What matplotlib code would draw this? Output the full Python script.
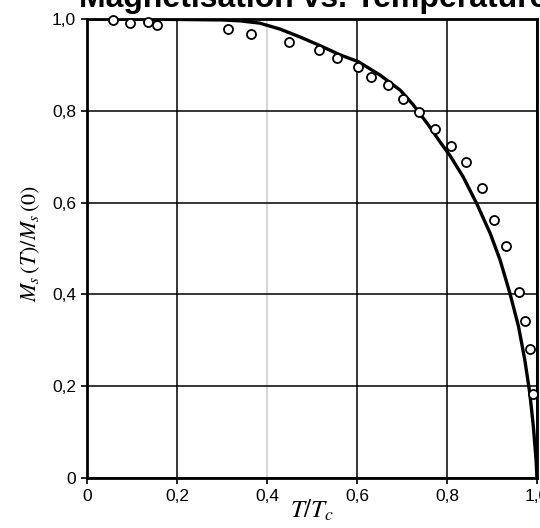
import numpy as np
import matplotlib.pyplot as plt

# measured points (open circles)
t_meas = [0.058, 0.096, 0.135, 0.155, 0.314, 0.365, 0.450, 0.516, 0.555, 0.603,
          0.632, 0.670, 0.703, 0.738, 0.773, 0.809, 0.842, 0.877, 0.905, 0.932,
          0.961, 0.974, 0.984, 0.991]
m_meas = [0.998, 0.992, 0.993, 0.988, 0.978, 0.967, 0.949, 0.932, 0.916, 0.895,
          0.874, 0.856, 0.826, 0.797, 0.761, 0.723, 0.688, 0.632, 0.563, 0.505,
          0.405, 0.342, 0.282, 0.183]

# theory curve
t_curve = [0.0, 0.1, 0.2, 0.3, 0.340, 0.384, 0.429, 0.473, 0.518, 0.562,
           0.603, 0.651, 0.696, 0.725, 0.758, 0.784, 0.807, 0.836, 0.866, 0.896,
           0.918, 0.940, 0.959, 0.973, 0.984, 0.992, 0.998, 1.0]
m_curve = [1.0, 1.0, 0.999, 0.998, 0.996, 0.991, 0.978, 0.961, 0.942, 0.922,
           0.907, 0.878, 0.845, 0.813, 0.770, 0.733, 0.702, 0.656, 0.598, 0.533,
           0.475, 0.402, 0.330, 0.257, 0.185, 0.112, 0.039, 0.0]

ticks = [0, 0.2, 0.4, 0.6, 0.8, 1.0]
tick_labels = ['0', '0,2', '0,4', '0,6', '0,8', '1,0']

plt.rcParams['mathtext.fontset'] = 'stix'

fig = plt.figure(figsize=(5.40, 5.28), dpi=100)
ax = fig.add_axes([0.1611, 0.0947, 0.8333, 0.8693])

ax.plot(t_curve, m_curve, color='black', lw=2.4, zorder=3, solid_joinstyle='round')
ax.plot(t_meas, m_meas, 'o', ms=6.5, mfc='white', mec='black', mew=1.3, zorder=4,
        clip_on=False)

ax.set_xlim(0, 1.0)
ax.set_ylim(0, 1.0)
ax.set_xticks(ticks)
ax.set_yticks(ticks)
ax.set_xticklabels(tick_labels, fontfamily='Liberation Sans', fontsize=12.5)
ax.set_yticklabels(tick_labels, fontfamily='Liberation Sans', fontsize=12.5)
ax.tick_params(direction='out', length=4, width=1.2, pad=4)

ax.grid(True, color='black', lw=1.1)
ax.get_xgridlines()[2].set_color('0.8')
for s in ax.spines.values():
    s.set_linewidth(2)

ax.set_xlabel(r'$T/T_c$', fontsize=18)
ax.set_ylabel(r'$M_s\,(T)/M_s\,(0)$', fontsize=16)
ax.xaxis.set_label_coords(0.5, -0.042)
ax.yaxis.set_label_coords(-0.1, 0.51)

fig.text(0.58, 1 - 7 / 528, 'Magnetisation vs. Temperature', ha='center', va='baseline',
         fontsize=23, fontweight='bold', fontfamily='Liberation Sans')

fig.savefig('out.png', dpi=100)
